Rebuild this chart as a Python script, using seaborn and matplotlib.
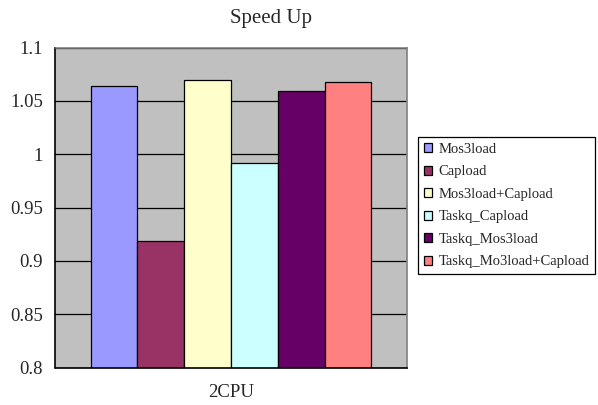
import matplotlib
matplotlib.use("Agg")
import matplotlib.pyplot as plt
import seaborn as sns
import pandas as pd

# Speed-up measurements on two CPUs
configs = ["Mos3load", "Capload", "Mos3load+Capload", "Taskq_Capload",
           "Taskq_Mos3load", "Taskq_Mo3load+Capload"]
speedup = [1.064, 0.919, 1.070, 0.992, 1.059, 1.068]
machine = ["2CPU"] * len(configs)
colors = ["#9999FF", "#993366", "#FFFFCC", "#CCFFFF", "#660066", "#FF8080"]
yticks = [0.8, 0.85, 0.9, 0.95, 1, 1.05, 1.1]
ytick_labels = ["0.8", "0.85", "0.9", "0.95", "1", "1.05", "1.1"]

df = pd.DataFrame({"machine": machine, "config": configs, "speedup": speedup})

sns.set_theme(style="white")
plt.rcParams["font.family"] = ["Liberation Serif", "DejaVu Serif"]

fig = plt.figure(figsize=(5.98, 4.05), dpi=100)
ax = fig.add_axes([55.5 / 598, 1 - 367.5 / 405, 351 / 598, 320 / 405])
ax.set_facecolor("#C0C0C0")

sns.barplot(data=df, x="machine", y="speedup", hue="config",
            hue_order=configs, palette=colors, width=0.8,
            edgecolor="black", linewidth=0.9, saturation=1.0,
            legend=True, ax=ax)

ax.set_xlim(-0.5, 0.5)
ax.set_ylim(0.8, 1.1)
ax.set_yticks(yticks)
ax.set_yticklabels(ytick_labels)
ax.yaxis.grid(True, color="black", linewidth=0.9)
ax.set_axisbelow(True)
ax.set_xlabel("")
ax.set_ylabel("")
ax.tick_params(axis="y", length=0, pad=9, labelsize=13.5)
ax.set_xticks([-0.5, 0.5], minor=True)
ax.tick_params(axis="x", which="minor", length=3, width=1, color="black", direction="out")
ax.tick_params(axis="x", which="major", length=0, pad=12, labelsize=13.5)

for side in ["top", "right"]:
    ax.spines[side].set_color("#808080")
    ax.spines[side].set_linewidth(1.2)
for side in ["left", "bottom"]:
    ax.spines[side].set_color("black")
    ax.spines[side].set_linewidth(1.2)

handles, labels = ax.get_legend_handles_labels()
ax.legend_.remove()
leg = fig.legend(handles, labels, loc="upper left",
                 bbox_to_anchor=(418 / 598, 1 - 137 / 405),
                 frameon=True, fancybox=False, framealpha=1,
                 edgecolor="black", fontsize=10.5,
                 handlelength=0.57, handleheight=0.57, handletextpad=0.45,
                 labelspacing=0.65, borderpad=0.4, borderaxespad=0)
leg.get_frame().set_linewidth(0.9)

fig.text(271 / 598, 1 - 18 / 405, "Speed Up", ha="center", va="center", fontsize=15)

fig.savefig("out.png", dpi=100)
